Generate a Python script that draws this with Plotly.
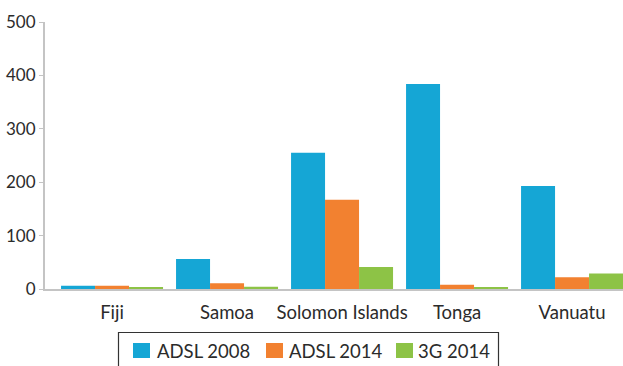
import plotly.graph_objects as go

countries = ["Fiji", "Samoa", "Solomon Islands", "Tonga", "Vanuatu"]
adsl_2008 = [6, 56, 255, 384, 193]
adsl_2014 = [6, 11, 167, 8, 22]
g3_2014 = [2, 4, 41, 2, 29]

series_names = ["ADSL 2008", "ADSL 2014", "3G 2014"]
series_values = [adsl_2008, adsl_2014, g3_2014]
series_colors = ["#15A6D5", "#F28130", "#8DC346"]

y_ticks = [0, 100, 200, 300, 400, 500]

W, H = 623, 366
FONT = "Lato"
TEXT = "#2B2B2B"
AXIS = "#C4C4C4"

fig = go.Figure()
for name, vals, col in zip(series_names, series_values, series_colors):
    fig.add_trace(go.Bar(x=countries, y=vals, name=name, marker_color=col,
                         marker_line_width=0, showlegend=False))

fig.update_layout(
    width=W, height=H,
    margin=dict(l=45, r=0, t=22, b=77),
    paper_bgcolor="white", plot_bgcolor="white",
    barmode="group", bargap=0.113, bargroupgap=0,
    font=dict(family=FONT, size=16, color=TEXT),
    xaxis=dict(range=[-0.583, 4.443], showline=True, linecolor=AXIS, linewidth=2,
               ticks="", showgrid=False, zeroline=False, ticklabelstandoff=6,
               tickfont=dict(size=18.5, color=TEXT)),
    yaxis=dict(range=[0, 500], tickvals=y_ticks, showline=True, linecolor=AXIS,
               linewidth=2, ticks="outside", ticklen=4, tickcolor=AXIS,
               showgrid=False, zeroline=False,
               tickfont=dict(size=17, color=TEXT)),
)

# Legend drawn as a bordered box with coloured squares (pixel positions -> paper coords)
def px(x):
    return (x - 45) / (W - 45)

def py(y):
    return (H - 77 - y) / (H - 22 - 77)

fig.add_shape(type="rect", xref="paper", yref="paper",
              x0=px(118.5), x1=px(498.5), y0=py(372), y1=py(332.5),
              line=dict(color="#333333", width=1.2), fillcolor="rgba(0,0,0,0)")
square_x = [133, 266, 396]
text_x = [155, 287, 416]
for sx, tx, name, col in zip(square_x, text_x, series_names, series_colors):
    fig.add_shape(type="rect", xref="paper", yref="paper",
                  x0=px(sx), x1=px(sx + 17), y0=py(358), y1=py(343),
                  line=dict(width=0), fillcolor=col)
    fig.add_annotation(xref="paper", yref="paper", x=px(tx), y=py(350.5),
                       text=name, showarrow=False, xanchor="left", yanchor="middle",
                       font=dict(family=FONT, size=18.5, color=TEXT))

fig.write_html("out.html")
